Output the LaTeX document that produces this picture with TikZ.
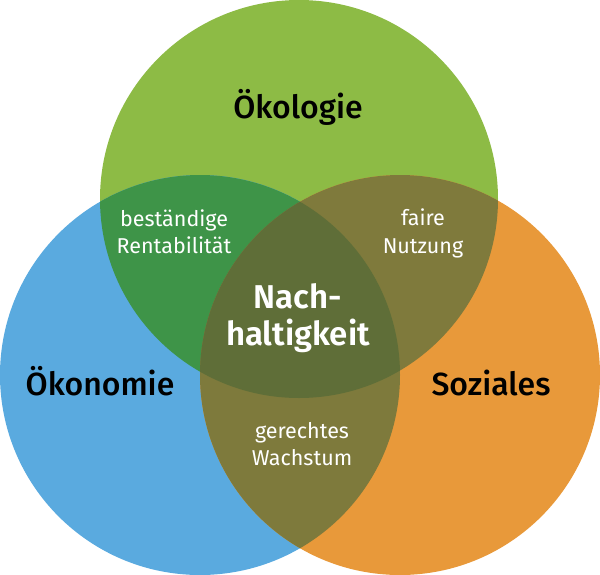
\documentclass[tikz,border=0pt]{standalone}
\usepackage{fontspec}
\setmainfont{Fira Sans}
\newfontfamily\medfont{Fira Sans Medium}
\newfontfamily\semifont{Fira Sans SemiBold}
\newfontfamily\lightfont{Fira Sans Light}
\definecolor{cgreen}{HTML}{8DBB45}
\definecolor{cblue}{HTML}{5AAADF}
\definecolor{corange}{HTML}{E8993A}
\definecolor{cgb}{HTML}{3E9448}
\definecolor{cgo}{HTML}{7F7A3C}
\definecolor{cbo}{HTML}{7E7A3C}
\definecolor{ccenter}{HTML}{5F6E38}
\tikzset{
  biglabel/.style={anchor=base, text=black, font=\medfont\fontsize{32}{36}\selectfont, inner sep=0pt},
  smalllabel/.style={anchor=base, text=white, font=\fontsize{21.5}{26}\selectfont, inner sep=0pt},
  centerlabel/.style={anchor=base, text=white, font=\semifont\fontsize{33}{38}\selectfont, inner sep=0pt},
}
\begin{document}
\begin{tikzpicture}[x=1pt,y=-1pt]
\useasboundingbox (0,0) rectangle (600,574);
\def\G{(299,199) circle[radius=199]}
\def\B{(200,375) circle[radius=200]}
\def\O{(400,375) circle[radius=200]}
\fill[cgreen] \G;
\fill[cblue] \B;
\fill[corange] \O;
\begin{scope}\clip \G; \fill[cgb] \B; \end{scope}
\begin{scope}\clip \G; \fill[cgo] \O; \end{scope}
\begin{scope}\clip \B; \fill[cbo] \O; \end{scope}
\begin{scope}\clip \G; \clip \B; \fill[ccenter] \O; \end{scope}
\node[biglabel] (oek) at (298,118) {Ökologie};
\node[biglabel] (oekon) at (100,395) {Ökonomie};
\node[biglabel] (soz) at (491,395) {Soziales};
\node[smalllabel] (b1) at (174,226) {beständige};
\node[smalllabel] (b2) at (174,253) {Rentabilität};
\node[smalllabel] (f1) at (423,225) {faire};
\node[smalllabel] (f2) at (423,253) {Nutzung};
\node[smalllabel] (g1) at (302,438) {gerechtes};
\node[smalllabel] (g2) at (302,465) {Wachstum};
\node[centerlabel] (n1) at (298,308) {Nach-};
\node[centerlabel] (n2) at (298,345) {haltigkeit};
\end{tikzpicture}
\end{document}
